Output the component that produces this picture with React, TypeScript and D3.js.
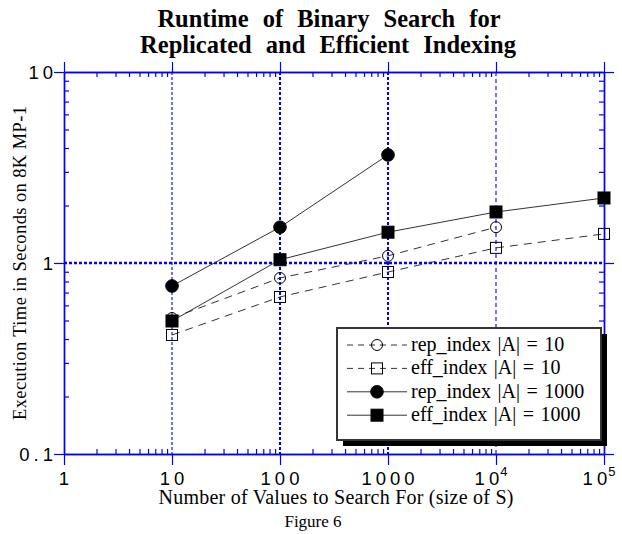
import { useEffect, useRef } from 'react';
import * as d3 from 'd3';

const sizes = [10, 100, 1000, 10000, 100000];
const repIndex10 = [0.515, 0.835, 1.09, 1.54];
const effIndex10 = [0.42, 0.664, 0.897, 1.2, 1.42];
const repIndex1000 = [0.758, 1.54, 3.68];
const effIndex1000 = [0.497, 1.04, 1.45, 1.85, 2.19];

const seriesNames = ['rep_index |A| = 10', 'eff_index |A| = 10', 'rep_index |A| = 1000', 'eff_index |A| = 1000'];

const xTicks = [1, 10, 100, 1000, 10000, 100000];
const xTickBase = ['1', '10', '100', '1000', '10', '10'];
const xTickExp = ['', '', '', '', '4', '5'];
const yTicks = [0.1, 1, 10];
const yTickText = ['0.1', '1', '10'];

const W = 622;
const H = 534;
const plot = { left: 64, right: 604, top: 72, bottom: 454 };

const BLUE = '#0000ff';
const SERIF = '"Liberation Serif", "Times New Roman", serif';
const SANS = '"Liberation Sans", Arial, sans-serif';

const series = [
  { name: seriesNames[0], values: repIndex10, shape: 'circle', filled: false, dashed: true },
  { name: seriesNames[1], values: effIndex10, shape: 'square', filled: false, dashed: true },
  { name: seriesNames[2], values: repIndex1000, shape: 'circle', filled: true, dashed: false },
  { name: seriesNames[3], values: effIndex1000, shape: 'square', filled: true, dashed: false },
];

const App = () => {
  const svgRef = useRef<SVGSVGElement | null>(null);

  useEffect(() => {
    document.body.style.margin = '0';
    const svg = d3.select(svgRef.current);
    svg.selectAll('*').remove();

    const x = d3.scaleLog().domain([1, 100000]).range([plot.left, plot.right]);
    const y = d3.scaleLog().domain([0.1, 10]).range([plot.bottom, plot.top]);

    // minor ticks 2..9 in each decade
    const xMinor: number[] = [];
    for (let d = 1; d < 100000; d *= 10) for (let k = 2; k < 10; k++) xMinor.push(d * k);
    const yMinor: number[] = [];
    for (let d = 0.1; d < 9; d *= 10) for (let k = 2; k < 10; k++) yMinor.push(+(d * k).toFixed(2));

    svg.append('rect').attr('width', W).attr('height', H).attr('fill', '#fff');

    // grid lines
    const grid = svg.append('g').attr('stroke', BLUE).attr('fill', 'none');
    const vGrid = [
      { v: 10, w: 1.1, dash: '3,2' },
      { v: 100, w: 2, dash: '3,2' },
      { v: 1000, w: 2, dash: '3,2' },
      { v: 10000, w: 1.1, dash: '4,3' },
    ];
    vGrid.forEach(g => {
      grid.append('line')
        .attr('x1', x(g.v)).attr('x2', x(g.v))
        .attr('y1', plot.top).attr('y2', plot.bottom)
        .attr('stroke-width', g.w).attr('stroke-dasharray', g.dash);
    });
    grid.append('line')
      .attr('x1', plot.left).attr('x2', plot.right)
      .attr('y1', y(1)).attr('y2', y(1))
      .attr('stroke-width', 2.5).attr('stroke-dasharray', '3,2');

    // axes: majors point outward, minors inward
    const axes = svg.append('g').attr('color', BLUE);
    const styleAxis = (g: any) => {
      g.selectAll('text').remove();
      g.selectAll('line').attr('stroke-width', 1.2);
      g.select('.domain').attr('stroke-width', 1.4);
    };
    const none = () => '';
    axes.append('g').attr('transform', `translate(0,${plot.bottom})`)
      .call(d3.axisBottom(x).tickValues(xTicks).tickSizeInner(11).tickSizeOuter(0).tickFormat(none)).call(styleAxis);
    axes.append('g').attr('transform', `translate(0,${plot.bottom})`)
      .call(d3.axisBottom(x).tickValues(xMinor).tickSizeInner(-5).tickSizeOuter(0).tickFormat(none)).call(styleAxis);
    axes.append('g').attr('transform', `translate(0,${plot.top})`)
      .call(d3.axisTop(x).tickValues(xTicks).tickSizeInner(10).tickSizeOuter(0).tickFormat(none)).call(styleAxis);
    axes.append('g').attr('transform', `translate(0,${plot.top})`)
      .call(d3.axisTop(x).tickValues(xMinor).tickSizeInner(-5).tickSizeOuter(0).tickFormat(none)).call(styleAxis);
    axes.append('g').attr('transform', `translate(${plot.left},0)`)
      .call(d3.axisLeft(y).tickValues(yTicks).tickSizeInner(10).tickSizeOuter(0).tickFormat(none)).call(styleAxis);
    axes.append('g').attr('transform', `translate(${plot.left},0)`)
      .call(d3.axisLeft(y).tickValues(yMinor).tickSizeInner(-5).tickSizeOuter(0).tickFormat(none)).call(styleAxis);
    axes.append('g').attr('transform', `translate(${plot.right},0)`)
      .call(d3.axisRight(y).tickValues(yTicks).tickSizeInner(10).tickSizeOuter(0).tickFormat(none)).call(styleAxis);
    axes.append('g').attr('transform', `translate(${plot.right},0)`)
      .call(d3.axisRight(y).tickValues(yMinor).tickSizeInner(-5).tickSizeOuter(0).tickFormat(none)).call(styleAxis);

    // tick labels (spaced-out digits as in the original)
    xTicks.forEach((v, i) => {
      const t = svg.append('text')
        .attr('x', x(v) + 2 + (xTickExp[i] ? -5 : 0)).attr('y', plot.bottom + 31)
        .attr('text-anchor', 'middle')
        .style('font-family', SANS).style('font-size', '18.5px').style('letter-spacing', '4px')
        .text(xTickBase[i]);
      if (xTickExp[i]) {
        t.append('tspan').attr('dy', -9).attr('dx', -3).style('font-size', '13px').text(xTickExp[i]);
      }
    });
    yTicks.forEach((v, i) => {
      svg.append('text')
        .attr('x', plot.left - 7).attr('y', y(v) + 6.5)
        .attr('text-anchor', 'end')
        .style('font-family', SANS).style('font-size', '18.5px').style('letter-spacing', '4px')
        .text(yTickText[i]);
    });

    // series lines
    const line = d3.line<number>()
      .x((_, i) => x(sizes[i]))
      .y(d => y(d));
    const lines = svg.append('g');
    series.forEach(s => {
      lines.append('path')
        .datum(s.values)
        .attr('d', line)
        .attr('fill', 'none')
        .attr('stroke', '#333')
        .attr('stroke-width', 1)
        .attr('stroke-dasharray', s.dashed ? '8,6' : null);
    });

    const drawMarker = (g: any, shape: string, filled: boolean, cx: number, cy: number) => {
      if (shape === 'circle') {
        g.append('circle')
          .attr('cx', cx).attr('cy', cy).attr('r', filled ? 6.3 : 5.5)
          .attr('fill', filled ? '#000' : 'none')
          .attr('stroke', '#000').attr('stroke-width', 1);
      } else {
        const sz = filled ? 12 : 11;
        g.append('rect')
          .attr('x', cx - sz / 2).attr('y', cy - sz / 2).attr('width', sz).attr('height', sz)
          .attr('fill', filled ? '#000' : 'none')
          .attr('stroke', '#000').attr('stroke-width', 1);
      }
    };

    const marks = svg.append('g');
    series.forEach(s => {
      s.values.forEach((v, i) => drawMarker(marks, s.shape, s.filled, x(sizes[i]), y(v)));
    });

    // legend
    const lg = svg.append('g').attr('transform', 'translate(337,328)');
    lg.append('rect').attr('x', 6).attr('y', 6).attr('width', 264).attr('height', 112).attr('fill', '#000');
    lg.append('rect').attr('x', 0).attr('y', 0).attr('width', 264).attr('height', 112)
      .attr('fill', '#fff').attr('stroke', '#333').attr('stroke-width', 2);
    series.forEach((s, i) => {
      const ry = 17 + i * 23.4;
      lg.append('line')
        .attr('x1', 10).attr('x2', 70).attr('y1', ry).attr('y2', ry)
        .attr('stroke', '#333').attr('stroke-width', 1)
        .attr('stroke-dasharray', s.dashed ? '6,5' : null);
      drawMarker(lg, s.shape, s.filled, 40, ry);
      lg.append('text')
        .attr('x', 74).attr('y', ry + 6)
        .style('font-family', SERIF).style('font-size', '20px').style('word-spacing', '1.5px')
        .text(s.name);
    });

    // titles
    const title = svg.append('g')
      .attr('text-anchor', 'middle')
      .style('font-family', SERIF).style('font-size', '24.5px').style('font-weight', 'bold')
      .style('word-spacing', '8px');
    title.append('text').attr('x', 329).attr('y', 27).text('Runtime of Binary Search for');
    title.append('text').attr('x', 328).attr('y', 53).text('Replicated and Efficient Indexing');

    svg.append('text')
      .attr('x', 336).attr('y', 504)
      .attr('text-anchor', 'middle')
      .attr('textLength', 355).attr('lengthAdjust', 'spacing')
      .style('font-family', SERIF).style('font-size', '20px')
      .text('Number of Values to Search For (size of S)');

    svg.append('text')
      .attr('transform', `translate(26,263) rotate(-90)`)
      .attr('text-anchor', 'middle')
      .attr('textLength', 314).attr('lengthAdjust', 'spacing')
      .style('font-family', SERIF).style('font-size', '18.5px')
      .text('Execution Time in Seconds on 8K MP-1');

    svg.append('text')
      .attr('x', 313).attr('y', 527)
      .attr('text-anchor', 'middle')
      .style('font-family', SERIF).style('font-size', '17px')
      .text('Figure 6');
  }, []);

  return <svg ref={svgRef} width={W} height={H} style={{ display: 'block' }} />;
};

export default App;
